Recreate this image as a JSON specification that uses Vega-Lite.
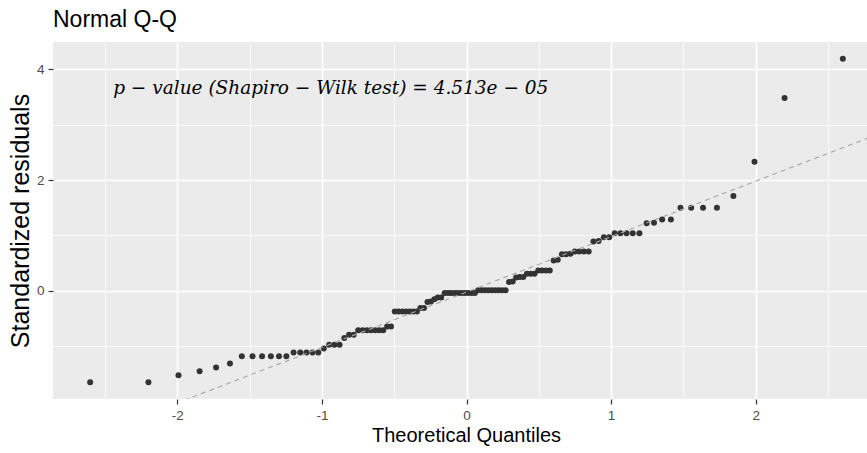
{
  "$schema": "https://vega.github.io/schema/vega-lite/v6.json",
  "width": 814,
  "height": 357,
  "autosize": {"type": "none"},
  "padding": {"left": 53, "top": 42, "right": 0, "bottom": 54},
  "background": "white",
  "title": {"text": "Normal Q-Q", "anchor": "start", "frame": "group", "font": "Liberation Sans", "fontSize": 23, "fontWeight": "normal", "color": "#000000", "offset": 10},
  "config": {
    "view": {"fill": "#EBEBEB", "stroke": null},
    "axis": {"domain": false, "gridColor": "#FFFFFF", "tickColor": "#333333", "tickSize": 5, "tickWidth": 1.2, "labelColor": "#4D4D4D", "labelFont": "Liberation Sans", "labelFontSize": 13.5, "titleFont": "Liberation Sans", "titleFontWeight": "normal", "titleColor": "#000000", "labelPadding": 4}
  },
  "datasets": {
    "points": [
      {"q": -2.603, "r": -1.65}, {"q": -2.2, "r": -1.65}, {"q": -1.992, "r": -1.52}, {"q": -1.846, "r": -1.45},
      {"q": -1.732, "r": -1.38}, {"q": -1.636, "r": -1.31}, {"q": -1.554, "r": -1.18}, {"q": -1.48, "r": -1.18},
      {"q": -1.414, "r": -1.18}, {"q": -1.353, "r": -1.18}, {"q": -1.297, "r": -1.18}, {"q": -1.246, "r": -1.18},
      {"q": -1.196, "r": -1.11}, {"q": -1.15, "r": -1.11}, {"q": -1.107, "r": -1.11}, {"q": -1.065, "r": -1.11},
      {"q": -1.025, "r": -1.11}, {"q": -0.987, "r": -1.04}, {"q": -0.95, "r": -0.97}, {"q": -0.914, "r": -0.97},
      {"q": -0.878, "r": -0.97}, {"q": -0.845, "r": -0.85}, {"q": -0.812, "r": -0.79}, {"q": -0.78, "r": -0.79},
      {"q": -0.749, "r": -0.71}, {"q": -0.719, "r": -0.71}, {"q": -0.689, "r": -0.71}, {"q": -0.66, "r": -0.71},
      {"q": -0.631, "r": -0.71}, {"q": -0.603, "r": -0.71}, {"q": -0.576, "r": -0.71}, {"q": -0.549, "r": -0.64},
      {"q": -0.522, "r": -0.64}, {"q": -0.496, "r": -0.37}, {"q": -0.47, "r": -0.37}, {"q": -0.444, "r": -0.37},
      {"q": -0.418, "r": -0.37}, {"q": -0.393, "r": -0.37}, {"q": -0.368, "r": -0.37}, {"q": -0.343, "r": -0.37},
      {"q": -0.319, "r": -0.31}, {"q": -0.294, "r": -0.31}, {"q": -0.27, "r": -0.2}, {"q": -0.246, "r": -0.19},
      {"q": -0.222, "r": -0.15}, {"q": -0.199, "r": -0.12}, {"q": -0.175, "r": -0.12}, {"q": -0.151, "r": -0.04},
      {"q": -0.128, "r": -0.04}, {"q": -0.105, "r": -0.04}, {"q": -0.081, "r": -0.04}, {"q": -0.058, "r": -0.04},
      {"q": -0.035, "r": -0.04}, {"q": -0.012, "r": -0.04}, {"q": 0.012, "r": -0.04}, {"q": 0.035, "r": -0.04},
      {"q": 0.058, "r": -0.04}, {"q": 0.081, "r": 0.01}, {"q": 0.105, "r": 0.01}, {"q": 0.128, "r": 0.01},
      {"q": 0.151, "r": 0.01}, {"q": 0.175, "r": 0.01}, {"q": 0.199, "r": 0.01}, {"q": 0.222, "r": 0.01},
      {"q": 0.246, "r": 0.01}, {"q": 0.27, "r": 0.01}, {"q": 0.294, "r": 0.16}, {"q": 0.319, "r": 0.17},
      {"q": 0.343, "r": 0.24}, {"q": 0.368, "r": 0.25}, {"q": 0.393, "r": 0.25}, {"q": 0.418, "r": 0.31},
      {"q": 0.444, "r": 0.31}, {"q": 0.47, "r": 0.31}, {"q": 0.496, "r": 0.37}, {"q": 0.522, "r": 0.37},
      {"q": 0.549, "r": 0.37}, {"q": 0.576, "r": 0.37}, {"q": 0.603, "r": 0.55}, {"q": 0.631, "r": 0.56},
      {"q": 0.66, "r": 0.66}, {"q": 0.689, "r": 0.66}, {"q": 0.719, "r": 0.67}, {"q": 0.749, "r": 0.71},
      {"q": 0.78, "r": 0.71}, {"q": 0.812, "r": 0.71}, {"q": 0.845, "r": 0.71}, {"q": 0.878, "r": 0.89},
      {"q": 0.914, "r": 0.9}, {"q": 0.95, "r": 0.97}, {"q": 0.987, "r": 0.97}, {"q": 1.025, "r": 1.04},
      {"q": 1.065, "r": 1.04}, {"q": 1.107, "r": 1.04}, {"q": 1.15, "r": 1.04}, {"q": 1.196, "r": 1.04},
      {"q": 1.246, "r": 1.22}, {"q": 1.297, "r": 1.23}, {"q": 1.353, "r": 1.29}, {"q": 1.414, "r": 1.29},
      {"q": 1.48, "r": 1.5}, {"q": 1.554, "r": 1.5}, {"q": 1.636, "r": 1.5}, {"q": 1.732, "r": 1.5},
      {"q": 1.846, "r": 1.71}, {"q": 1.992, "r": 2.33}, {"q": 2.2, "r": 3.48}, {"q": 2.603, "r": 4.19}
    ],
    "qqline": [
      {"q": -3, "r": -3.02},
      {"q": 3, "r": 2.98}
    ]
  },
  "layer": [
    {
      "data": {"name": "points"},
      "mark": {"type": "circle", "size": 36, "color": "#333333", "opacity": 1},
      "encoding": {
        "x": {
          "field": "q", "type": "quantitative",
          "scale": {"domain": [-2.86, 2.77], "nice": false, "zero": false},
          "axis": {
            "values": [-2.5, -2, -1.5, -1, -0.5, 0, 0.5, 1, 1.5, 2, 2.5],
            "labelExpr": "datum.value % 1 === 0 ? toString(datum.value) : ''",
            "gridWidth": {"condition": {"test": "datum.value % 1 !== 0", "value": 0.8}, "value": 1.7},
            "tickOpacity": {"condition": {"test": "datum.value % 1 !== 0", "value": 0}, "value": 1},
            "title": "Theoretical Quantiles",
            "titleFontSize": 20,
            "titlePadding": 4,
            "titleX": 413
          }
        },
        "y": {
          "field": "r", "type": "quantitative",
          "scale": {"domain": [-1.95, 4.49], "nice": false, "zero": false},
          "axis": {
            "values": [-1, 0, 1, 2, 3, 4],
            "labelExpr": "datum.value % 2 === 0 ? toString(datum.value) : ''",
            "gridWidth": {"condition": {"test": "datum.value % 2 !== 0", "value": 0.8}, "value": 1.7},
            "tickOpacity": {"condition": {"test": "datum.value % 2 !== 0", "value": 0}, "value": 1},
            "title": "Standardized residuals",
            "titleFontSize": 25,
            "titlePadding": 3
          }
        }
      }
    },
    {
      "data": {"name": "qqline"},
      "mark": {"type": "line", "clip": true, "color": "#A6A6A6", "strokeWidth": 1.1, "strokeDash": [5, 4]},
      "encoding": {
        "x": {"field": "q", "type": "quantitative"},
        "y": {"field": "r", "type": "quantitative"}
      }
    },
    {
      "data": {"values": [{}]},
      "mark": {"type": "text", "align": "left", "baseline": "middle", "font": "DejaVu Serif", "fontStyle": "italic", "fontSize": 18.5, "color": "#000000"},
      "encoding": {
        "x": {"datum": -2.444},
        "y": {"datum": 3.66},
        "text": {"value": "p − value (Shapiro − Wilk test) = 4.513e − 05"}
      }
    }
  ]
}
